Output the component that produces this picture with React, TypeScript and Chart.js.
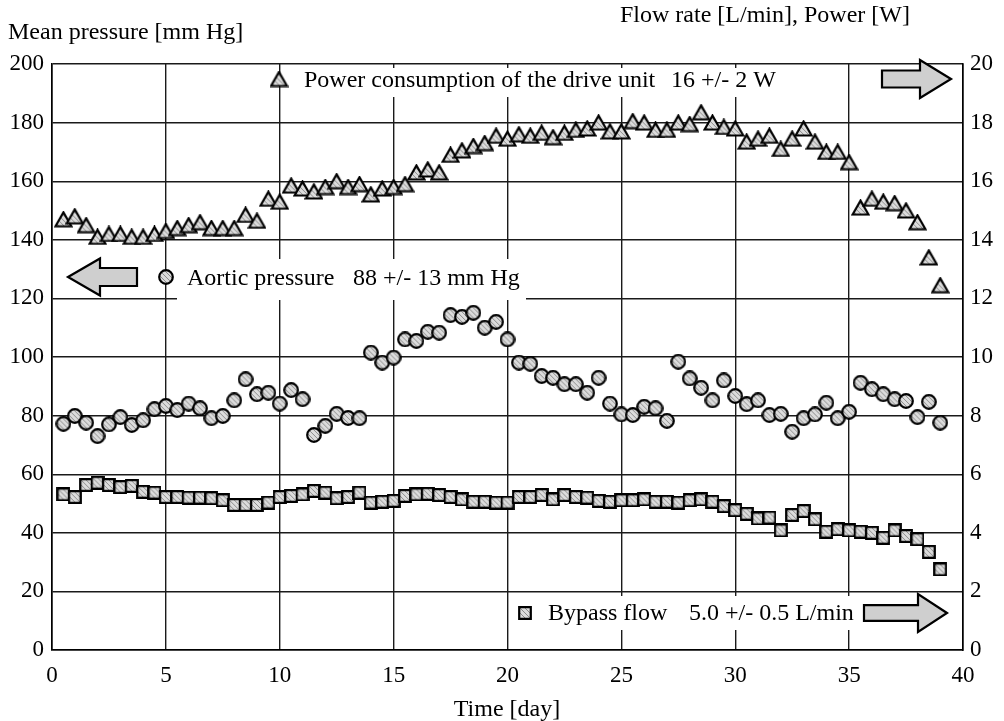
import React, { useEffect, useRef } from "react";
import { Chart, registerables } from "chart.js";

Chart.register(...registerables);

// ---- data ----
const days = [
  0.5, 1, 1.5, 2, 2.5, 3, 3.5, 4, 4.5, 5,
  5.5, 6, 6.5, 7, 7.5, 8, 8.5, 9, 9.5, 10,
  10.5, 11, 11.5, 12, 12.5, 13, 13.5, 14, 14.5, 15,
  15.5, 16, 16.5, 17, 17.5, 18, 18.5, 19, 19.5, 20,
  20.5, 21, 21.5, 22, 22.5, 23, 23.5, 24, 24.5, 25,
  25.5, 26, 26.5, 27, 27.5, 28, 28.5, 29, 29.5, 30,
  30.5, 31, 31.5, 32, 32.5, 33, 33.5, 34, 34.5, 35,
  35.5, 36, 36.5, 37, 37.5, 38, 38.5, 39,
];

// Aortic pressure [mm Hg] (left axis)
const aorticPressure = [
  77.2, 79.9, 77.6, 73.0, 77.0, 79.5, 76.8, 78.4, 82.2, 83.3,
  81.9, 84.1, 82.5, 79.1, 79.9, 85.2, 92.4, 87.3, 87.8, 84.1,
  88.7, 85.6, 73.4, 76.5, 80.6, 79.2, 79.1, 101.5, 98.1, 99.8,
  106.0, 105.5, 108.6, 108.3, 114.3, 113.7, 115.1, 110.0, 112.0, 106.0,
  98.1, 97.7, 93.5, 92.9, 90.7, 90.7, 87.8, 92.9, 84.1, 80.4,
  80.2, 83.0, 82.5, 78.2, 98.4, 92.7, 89.5, 85.2, 92.0, 86.7,
  83.9, 85.2, 80.2, 80.6, 74.5, 79.1, 80.4, 84.4, 79.1, 81.3,
  91.2, 89.0, 87.3, 85.6, 85.0, 79.5, 84.7, 77.6,
];

// Power consumption [W] (right axis)
const powerConsumption = [
  14.7, 14.8, 14.5, 14.1, 14.2, 14.2, 14.1, 14.1, 14.2, 14.3,
  14.4, 14.5, 14.6, 14.4, 14.4, 14.4, 14.85, 14.65, 15.4, 15.3,
  15.85, 15.75, 15.65, 15.8, 16.0, 15.8, 15.9, 15.55, 15.75, 15.8,
  15.9, 16.3, 16.4, 16.3, 16.9, 17.05, 17.2, 17.3, 17.55, 17.45,
  17.6, 17.55, 17.65, 17.5, 17.65, 17.75, 17.8, 18.0, 17.7, 17.7,
  18.05, 18.0, 17.75, 17.75, 18.0, 17.95, 18.35, 18.0, 17.85, 17.8,
  17.35, 17.45, 17.55, 17.1, 17.45, 17.8, 17.35, 17.0, 17.0, 16.65,
  15.1, 15.4, 15.3, 15.25, 15.0, 14.6, 13.4, 12.45,
];

// Bypass flow [L/min] (right axis)
const bypassFlow = [
  5.31, 5.22, 5.63, 5.71, 5.63, 5.56, 5.60, 5.40, 5.37, 5.22,
  5.22, 5.20, 5.20, 5.18, 5.11, 4.95, 4.95, 4.95, 5.03, 5.22,
  5.26, 5.31, 5.43, 5.37, 5.18, 5.22, 5.37, 5.03, 5.06, 5.09,
  5.26, 5.31, 5.33, 5.29, 5.22, 5.14, 5.06, 5.06, 5.03, 5.03,
  5.22, 5.22, 5.29, 5.14, 5.29, 5.22, 5.20, 5.09, 5.06, 5.11,
  5.11, 5.14, 5.06, 5.06, 5.03, 5.11, 5.14, 5.06, 4.91, 4.77,
  4.65, 4.49, 4.52, 4.08, 4.61, 4.74, 4.46, 4.04, 4.12, 4.08,
  4.04, 4.00, 3.83, 4.08, 3.89, 3.78, 3.35, 2.75,
];

const xTicks = [0, 5, 10, 15, 20, 25, 30, 35, 40];
const leftTicks = [0, 20, 40, 60, 80, 100, 120, 140, 160, 180, 200];
const rightTicks = [0, 2, 4, 6, 8, 10, 12, 14, 16, 18, 20];

const leftTitle = "Mean pressure [mm Hg]";
const rightTitle = "Flow rate [L/min], Power [W]";
const xTitle = "Time [day]";
const powerLabel = ["Power consumption of the drive unit", "16 +/- 2 W"];
const aorticLabel = ["Aortic pressure", "88 +/- 13 mm Hg"];
const bypassLabel = ["Bypass flow", "5.0 +/- 0.5 L/min"];

const FONT = "'Liberation Serif', 'Times New Roman', serif";

function stipple(ctx: CanvasRenderingContext2D, w: number, h: number) {
  ctx.fillStyle = "#8c8c8c";
  for (let y = 0; y < h; y++) {
    for (let x = 0; x < w; x++) {
      if ((x * 7 + y * 3) % 5 === 0) ctx.fillRect(x, y, 1, 1);
    }
  }
}

function makeMarker(shape: "triangle" | "circle" | "square"): HTMLCanvasElement {
  const c = document.createElement("canvas");
  let w = 16, h = 16;
  if (shape === "triangle") { w = 19; h = 17; }
  if (shape === "square") { w = 14; h = 14; }
  c.width = w; c.height = h;
  const ctx = c.getContext("2d")!;
  const path = new Path2D();
  if (shape === "triangle") {
    path.moveTo(w / 2, 1.5);
    path.lineTo(w - 1.5, h - 1.5);
    path.lineTo(1.5, h - 1.5);
    path.closePath();
  } else if (shape === "circle") {
    path.arc(w / 2, h / 2, 6.8, 0, Math.PI * 2);
  } else {
    path.rect(1.2, 1.2, w - 2.4, h - 2.4);
  }
  ctx.fillStyle = "#dcdcdc";
  ctx.fill(path);
  ctx.save();
  ctx.clip(path);
  stipple(ctx, w, h);
  ctx.restore();
  ctx.lineWidth = 2.2;
  ctx.strokeStyle = "#000";
  ctx.lineJoin = "miter";
  ctx.stroke(path);
  return c;
}

function drawArrow(
  ctx: CanvasRenderingContext2D,
  tipX: number, tipY: number, headBaseX: number, tailX: number,
  headHalf: number, bodyHalf: number
) {
  ctx.save();
  ctx.beginPath();
  ctx.moveTo(tipX, tipY);
  ctx.lineTo(headBaseX, tipY - headHalf);
  ctx.lineTo(headBaseX, tipY - bodyHalf);
  ctx.lineTo(tailX, tipY - bodyHalf);
  ctx.lineTo(tailX, tipY + bodyHalf);
  ctx.lineTo(headBaseX, tipY + bodyHalf);
  ctx.lineTo(headBaseX, tipY + headHalf);
  ctx.closePath();
  ctx.fillStyle = "#cfcfcf";
  ctx.fill();
  ctx.lineWidth = 2.2;
  ctx.strokeStyle = "#000";
  ctx.lineJoin = "miter";
  ctx.stroke();
  ctx.restore();
}

export default function App() {
  const ref = useRef<HTMLCanvasElement | null>(null);

  useEffect(() => {
    if (!ref.current) return;
    const tri = makeMarker("triangle");
    const circ = makeMarker("circle");
    const sq = makeMarker("square");

    const decor = {
      id: "decor",
      beforeDatasetsDraw(chart: any) {
        const ctx: CanvasRenderingContext2D = chart.ctx;
        ctx.save();
        // white label boxes hiding grid lines
        ctx.fillStyle = "#fff";
        ctx.fillRect(290, 68, 500, 29);
        ctx.fillRect(177, 259, 349, 41);
        ctx.fillRect(537, 596, 323, 34);
        // legend markers
        ctx.drawImage(tri, 279 - tri.width / 2, 79 - tri.height / 2);
        ctx.drawImage(circ, 166 - circ.width / 2, 277 - circ.height / 2);
        ctx.drawImage(sq, 525 - sq.width / 2, 613 - sq.height / 2);
        // texts
        ctx.fillStyle = "#000";
        ctx.font = `24px ${FONT}`;
        ctx.textBaseline = "alphabetic";
        ctx.textAlign = "left";
        ctx.fillText(powerLabel[0], 304, 87);
        ctx.fillText(powerLabel[1], 671, 87);
        ctx.fillText(aorticLabel[0], 187, 285);
        ctx.fillText(aorticLabel[1], 353, 285);
        ctx.fillText(bypassLabel[0], 548, 620);
        ctx.fillText(bypassLabel[1], 689, 620);
        // arrows
        drawArrow(ctx, 951, 79, 920, 882, 19, 8.5);
        drawArrow(ctx, 68, 277, 100, 137, 18.5, 9);
        drawArrow(ctx, 947, 613, 918, 864, 19, 7.8);
        ctx.restore();
      },
      afterDraw(chart: any) {
        const ctx: CanvasRenderingContext2D = chart.ctx;
        ctx.save();
        ctx.fillStyle = "#000";
        ctx.font = `24px ${FONT}`;
        ctx.textBaseline = "alphabetic";
        ctx.textAlign = "left";
        ctx.fillText(leftTitle, 8, 39);
        ctx.fillText(rightTitle, 620, 22);
        ctx.textAlign = "center";
        ctx.fillText(xTitle, 507, 716);
        ctx.restore();
      },
    };

    const tickFont = { family: FONT, size: 23 };

    const chart = new Chart(ref.current, {
      type: "scatter",
      data: {
        datasets: [
          {
            label: "Bypass flow",
            data: days.map((d, i) => ({ x: d, y: bypassFlow[i] })),
            yAxisID: "y1",
            pointStyle: sq as any,
            pointRadius: 7,
            showLine: false,
          },
          {
            label: "Aortic pressure",
            data: days.map((d, i) => ({ x: d, y: aorticPressure[i] })),
            yAxisID: "y",
            pointStyle: circ as any,
            pointRadius: 8,
            showLine: false,
          },
          {
            label: "Power consumption",
            data: days.map((d, i) => ({ x: d, y: powerConsumption[i] })),
            yAxisID: "y1",
            pointStyle: tri as any,
            pointRadius: 9,
            showLine: false,
          },
        ],
      },
      options: {
        responsive: false,
        animation: false,
        devicePixelRatio: 1,
        layout: { padding: { top: 64, left: 0, right: 0, bottom: 0 } },
        plugins: { legend: { display: false }, tooltip: { enabled: false } },
        scales: {
          x: {
            type: "linear",
            min: 0,
            max: 40,
            afterBuildTicks: (s: any) => { s.ticks = xTicks.map((v) => ({ value: v })); },
            afterFit: (s: any) => { s.height = 71; },
            grid: { color: "#1a1a1a", lineWidth: 1.4, drawTicks: false },
            border: { color: "#000", width: 1.6 },
            ticks: { font: tickFont, color: "#000", padding: 12, maxRotation: 0 },
          },
          y: {
            type: "linear",
            position: "left",
            min: 0,
            max: 200,
            afterBuildTicks: (s: any) => { s.ticks = leftTicks.map((v) => ({ value: v })); },
            afterFit: (s: any) => { s.width = 52; },
            grid: { color: "#1a1a1a", lineWidth: 1.4, drawTicks: false },
            border: { color: "#000", width: 1.6 },
            ticks: { font: tickFont, color: "#000", padding: 8 },
          },
          y1: {
            type: "linear",
            position: "right",
            min: 0,
            max: 20,
            afterBuildTicks: (s: any) => { s.ticks = rightTicks.map((v) => ({ value: v })); },
            afterFit: (s: any) => { s.width = 41; },
            grid: { drawOnChartArea: false, drawTicks: false },
            border: { color: "#000", width: 1.6 },
            ticks: { font: tickFont, color: "#000", padding: 7 },
          },
        },
      },
      plugins: [decor],
    } as any);

    return () => chart.destroy();
  }, []);

  return (
    <div style={{ position: "fixed", left: 0, top: 0, width: 1004, height: 721, background: "#fff" }}>
      <canvas ref={ref} width={1004} height={721} style={{ display: "block", width: 1004, height: 721 }} />
    </div>
  );
}
